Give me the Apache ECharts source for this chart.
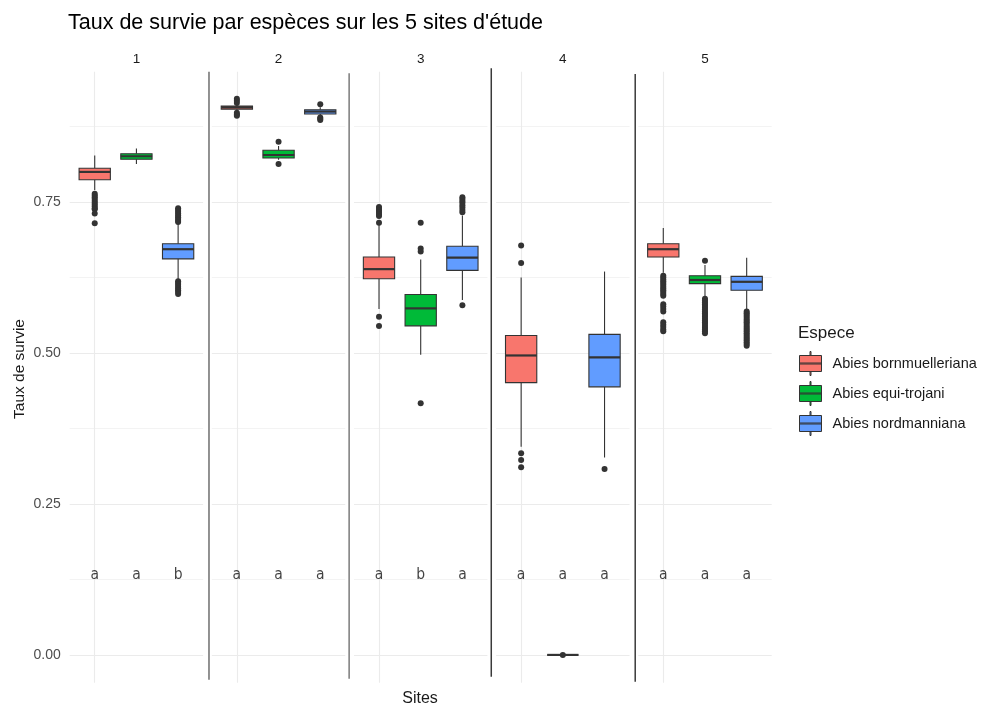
<!DOCTYPE html>
<html>
<head>
<meta charset="utf-8">
<script src="https://cdn.jsdelivr.net/npm/echarts@6/dist/echarts.min.js"></script>
<style>
  html, body { margin: 0; padding: 0; background: #ffffff; }
  #chart { width: 982px; height: 708px; }
</style>
</head>
<body>
<div id="chart"></div>
<script>
// ---- data -----------------------------------------------------------------
const sites = ['1', '2', '3', '4', '5'];
const species = ['Abies bornmuelleriana', 'Abies equi-trojani', 'Abies nordmanniana'];
const speciesColors = ['#F8766D', '#00BA38', '#619CFF'];

const yTicks = [0, 0.25, 0.5, 0.75];
const yTickLabels = ['0.00', '0.25', '0.50', '0.75'];
const yMinorTicks = [0.125, 0.375, 0.625, 0.875];

// per site, per species: [lower whisker, Q1, median, Q3, upper whisker]
const boxSite1 = [[0.770, 0.787, 0.800, 0.806, 0.827], [0.813, 0.821, 0.826, 0.830, 0.839], [0.622, 0.656, 0.672, 0.681, 0.714]];
const boxSite2 = [[0.901, 0.904, 0.907, 0.909, 0.911], [0.820, 0.823, 0.828, 0.836, 0.843], [0.893, 0.896, 0.900, 0.903, 0.907]];
const boxSite3 = [[0.573, 0.623, 0.639, 0.659, 0.712], [0.497, 0.545, 0.574, 0.597, 0.655], [0.588, 0.637, 0.658, 0.677, 0.728]];
const boxSite4 = [[0.345, 0.451, 0.496, 0.529, 0.625], [0, 0, 0, 0, 0], [0.327, 0.444, 0.493, 0.531, 0.635]];
const boxSite5 = [[0.633, 0.659, 0.672, 0.681, 0.707], [0.593, 0.615, 0.621, 0.628, 0.646], [0.571, 0.604, 0.618, 0.627, 0.658]];

// per site, per species: points beyond the whiskers
const outSite1 = [
  [0.764, 0.761, 0.758, 0.755, 0.752, 0.749, 0.746, 0.743, 0.740, 0.738, 0.731, 0.715],
  [],
  [0.740, 0.737, 0.734, 0.731, 0.728, 0.725, 0.722, 0.719, 0.717, 0.619, 0.616, 0.613, 0.610, 0.607, 0.604, 0.601, 0.598]
];
const outSite2 = [
  [0.921, 0.918, 0.914, 0.898, 0.895, 0.893],
  [0.850, 0.813],
  [0.912, 0.890, 0.888, 0.886]
];
const outSite3 = [
  [0.742, 0.739, 0.736, 0.733, 0.730, 0.727, 0.716, 0.560, 0.545],
  [0.716, 0.673, 0.668, 0.417],
  [0.758, 0.755, 0.752, 0.749, 0.745, 0.741, 0.737, 0.733, 0.579]
];
const outSite4 = [
  [0.678, 0.649, 0.334, 0.323, 0.311],
  [0],
  [0.308]
];
const outSite5 = [
  [0.628, 0.625, 0.622, 0.619, 0.616, 0.613, 0.610, 0.607, 0.604, 0.601, 0.598, 0.595,
   0.581, 0.577, 0.573, 0.569, 0.551, 0.547, 0.543, 0.539, 0.536],
  [0.653, 0.590, 0.587, 0.584, 0.581, 0.578, 0.575, 0.572, 0.569, 0.566, 0.563, 0.560,
   0.557, 0.554, 0.551, 0.548, 0.545, 0.542, 0.539, 0.536, 0.533],
  [0.569, 0.566, 0.563, 0.560, 0.557, 0.554, 0.551, 0.548, 0.545, 0.542, 0.539, 0.536,
   0.533, 0.530, 0.527, 0.524, 0.521, 0.518, 0.515, 0.512]
];

// group letters (post-hoc test) and the height they are written at
const lettersSite1 = ['a', 'a', 'b'];
const lettersSite2 = ['a', 'a', 'a'];
const lettersSite3 = ['a', 'b', 'a'];
const lettersSite4 = ['a', 'a', 'a'];
const lettersSite5 = ['a', 'a', 'a'];
const letterLevel = 0.125;

const boxes = [boxSite1, boxSite2, boxSite3, boxSite4, boxSite5];
const outliers = [outSite1, outSite2, outSite3, outSite4, outSite5];
const letters = [lettersSite1, lettersSite2, lettersSite3, lettersSite4, lettersSite5];

// ---- layout ---------------------------------------------------------------
const Y_MIN = -0.046, Y_MAX = 0.966;
const UNIT = 41.7;                 // width of one species slot
const PANEL_W = UNIT * 3.2;        // three slots plus 0.6 slot of padding
const PANEL_GAP = 8.7;
const PANEL_LEFT = 69.7;
const TOP = 71.7, HEIGHT = 611;
const BOX_FRACTION = 0.75;
const GRID_COLOR = '#ebebeb';
const DARK = '#333333';
const FONT = 'Liberation Sans';

// dividers drawn between facets: horizontal nudge, top/bottom overhang, colour
const dividerStyle = [
  { dx: 1.5, top: 0, bottom: -3, color: '#6e6e6e' },
  { dx: -0.5, top: 1.5, bottom: -4, color: '#7a7a7a' },
  { dx: -0.5, top: -3.5, bottom: -6, color: '#3a3a3a' },
  { dx: 1.3, top: 2.3, bottom: -1, color: '#3a3a3a' }
];

function panelLeft(i) { return PANEL_LEFT + i * (PANEL_W + PANEL_GAP); }

function renderBox(params, api) {
  const k = api.value(0);
  const lo = api.coord([k, api.value(1)]);
  const q1 = api.coord([k, api.value(2)]);
  const md = api.coord([k, api.value(3)]);
  const q3 = api.coord([k, api.value(4)]);
  const hi = api.coord([k, api.value(5)]);
  const bw = api.size([1, 0])[0] * BOX_FRACTION;
  const cx = md[0];
  return {
    type: 'group',
    children: [
      { type: 'line', shape: { x1: cx, y1: q3[1], x2: cx, y2: hi[1] }, style: { stroke: DARK, lineWidth: 1.1 } },
      { type: 'line', shape: { x1: cx, y1: q1[1], x2: cx, y2: lo[1] }, style: { stroke: DARK, lineWidth: 1.1 } },
      { type: 'rect', shape: { x: cx - bw / 2, y: q3[1], width: bw, height: q1[1] - q3[1] },
        style: { fill: api.visual('color'), stroke: DARK, lineWidth: 1.1 } },
      { type: 'line', shape: { x1: cx - bw / 2, y1: md[1], x2: cx + bw / 2, y2: md[1] }, style: { stroke: DARK, lineWidth: 2.2 } }
    ]
  };
}

const grids = [], xAxes = [], yAxes = [], series = [];

sites.forEach((site, i) => {
  const left = panelLeft(i);

  // panel background: horizontal grid lines and the facet strip label
  const gBg = grids.length;
  grids.push({ left: left, top: TOP, width: PANEL_W, height: HEIGHT });
  xAxes.push({
    gridIndex: gBg, type: 'value', min: 0, max: 1, position: 'top',
    name: site, nameLocation: 'middle', nameGap: 5,
    nameTextStyle: { color: '#1a1a1a', fontSize: 13.5, fontFamily: FONT },
    axisLine: { show: false }, axisTick: { show: false }, axisLabel: { show: false }, splitLine: { show: false }
  });
  yAxes.push({
    gridIndex: gBg, type: 'value', min: Y_MIN, max: Y_MAX, position: 'left',
    axisLine: { show: false },
    axisTick: { show: false, customValues: yTicks },
    axisLabel: {
      show: i === 0, customValues: yTicks, margin: 9,
      color: '#4d4d4d', fontSize: 14, fontFamily: FONT,
      formatter: v => yTickLabels[yTicks.indexOf(v)]
    },
    splitLine: { show: true, lineStyle: { color: GRID_COLOR, width: 1.1 } }
  });
  yAxes.push({
    gridIndex: gBg, type: 'value', min: Y_MIN, max: Y_MAX, position: 'right',
    axisLine: { show: false },
    axisTick: { show: false, customValues: yMinorTicks },
    axisLabel: { show: false, customValues: yMinorTicks },
    splitLine: { show: true, lineStyle: { color: GRID_COLOR, width: 0.6 } }
  });

  // vertical grid lines through each species slot
  const gV = grids.length;
  grids.push({ left: left + UNIT * 0.6, top: TOP, width: UNIT * 2, height: HEIGHT });
  xAxes.push({
    gridIndex: gV, type: 'category', data: species, boundaryGap: false,
    axisLine: { show: false }, axisTick: { show: false }, axisLabel: { show: false },
    splitLine: { show: true, lineStyle: { color: GRID_COLOR, width: 1.1 } }
  });
  yAxes.push({ gridIndex: gV, type: 'value', min: Y_MIN, max: Y_MAX, show: false, splitLine: { show: false } });

  // data area
  const gD = grids.length;
  grids.push({ left: left + UNIT * 0.1, top: TOP, width: UNIT * 3, height: HEIGHT });
  const xD = xAxes.length, yD = yAxes.length;
  xAxes.push({ gridIndex: gD, type: 'category', data: species, boundaryGap: true, show: false });
  yAxes.push({ gridIndex: gD, type: 'value', min: Y_MIN, max: Y_MAX, show: false, splitLine: { show: false } });

  species.forEach((sp, k) => {
    series.push({
      type: 'custom', name: sp, xAxisIndex: xD, yAxisIndex: yD,
      itemStyle: { color: speciesColors[k] },
      renderItem: renderBox,
      encode: { x: 0, y: [1, 2, 3, 4, 5] },
      data: [[k].concat(boxes[i][k])],
      silent: true, z: 2
    });
  });

  const pts = [];
  outliers[i].forEach((list, k) => list.forEach(v => pts.push([k, v])));
  series.push({
    type: 'scatter', xAxisIndex: xD, yAxisIndex: yD, data: pts,
    symbolSize: 6, itemStyle: { color: DARK, opacity: 1 }, silent: true, z: 3
  });

  series.push({
    type: 'scatter', xAxisIndex: xD, yAxisIndex: yD,
    data: letters[i].map((t, k) => ({ value: [k, letterLevel], label: { formatter: t } })),
    symbolSize: 0, silent: true, z: 4,
    label: { show: true, position: 'top', distance: -3.5, color: '#111111', fontSize: 15.5, fontFamily: 'DejaVu Sans Condensed' }
  });
});

// lines separating the facets
const dividers = dividerStyle.map((d, i) => {
  const x = (panelLeft(i) + PANEL_W + panelLeft(i + 1)) / 2 + d.dx;
  return {
    type: 'line', silent: true, z: 10,
    shape: { x1: x, y1: TOP + d.top, x2: x, y2: TOP + HEIGHT + d.bottom },
    style: { stroke: d.color, lineWidth: 1.5 }
  };
});

const legendIcon = 'path://M10.5,0H11.5V4H10.5Z M0,4H22V20H0Z M0,11.5H22V12.5H0Z M10.5,20H11.5V24H10.5Z';

const option = {
  backgroundColor: '#ffffff',
  animation: false,
  title: {
    text: "Taux de survie par espèces sur les 5 sites d'étude",
    left: 68, top: 12.5, padding: 0,
    textStyle: { color: '#000000', fontSize: 21.5, fontWeight: 'normal', fontFamily: FONT }
  },
  legend: {
    orient: 'vertical', left: 799, top: 351, padding: 0,
    itemWidth: 22, itemHeight: 24, itemGap: 5,
    data: species.map(s => ({ name: s, icon: legendIcon })),
    itemStyle: { borderColor: DARK, borderWidth: 1 },
    textStyle: { color: '#1a1a1a', fontSize: 14.5, fontFamily: FONT, padding: [0, 0, 0, 6] },
    selectedMode: false
  },
  grid: grids,
  xAxis: xAxes,
  yAxis: yAxes,
  series: series,
  graphic: [
    {
      type: 'text', x: 20, y: 369, rotation: Math.PI / 2, silent: true,
      style: { text: 'Taux de survie', align: 'center', verticalAlign: 'middle', fill: '#1a1a1a', fontSize: 15.5, fontFamily: FONT }
    },
    {
      type: 'text', x: 420, y: 699, silent: true,
      style: { text: 'Sites', align: 'center', verticalAlign: 'middle', fill: '#1a1a1a', fontSize: 16, fontFamily: FONT }
    },
    {
      type: 'text', x: 798, y: 333, silent: true,
      style: { text: 'Espece', align: 'left', verticalAlign: 'middle', fill: '#1a1a1a', fontSize: 17, fontFamily: FONT }
    }
  ].concat(dividers)
};

const chart = echarts.init(document.getElementById('chart'), null, { renderer: 'canvas' });
chart.setOption(option);
</script>
</body>
</html>
